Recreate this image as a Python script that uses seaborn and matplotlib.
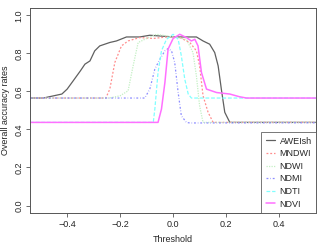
import matplotlib
matplotlib.use("Agg")
import matplotlib.pyplot as plt
import seaborn as sns
import pandas as pd

# Threshold vs overall accuracy
awei_x = [-0.54, -0.49, -0.45, -0.42, -0.40, -0.377, -0.35, -0.333, -0.314, -0.296, -0.277,
          -0.239, -0.214, -0.176, -0.126, -0.088, 0.0, 0.088, 0.113, 0.138, 0.157, 0.17,
          0.182, 0.195, 0.214, 0.54]
awei_y = [0.565, 0.565, 0.577, 0.586, 0.612, 0.656, 0.708, 0.743, 0.76, 0.813, 0.839,
          0.857, 0.865, 0.886, 0.886, 0.895, 0.886, 0.886, 0.865, 0.848, 0.804, 0.734,
          0.612, 0.49, 0.437, 0.437]

mndwi_x = [-0.54, -0.254, -0.239, -0.22, -0.195, -0.17, -0.126, -0.075, -0.025, 0.025,
           0.063, 0.088, 0.1, 0.113, 0.132, 0.151, 0.54]
mndwi_y = [0.565, 0.565, 0.612, 0.752, 0.839, 0.865, 0.883, 0.878, 0.886, 0.883,
           0.857, 0.813, 0.734, 0.577, 0.49, 0.437, 0.437]

ndwi_x = [-0.54, -0.24, -0.2, -0.17, -0.151, -0.132, -0.1, -0.063, -0.025, 0.05,
          0.075, 0.088, 0.1, 0.113, 0.54]
ndwi_y = [0.565, 0.565, 0.577, 0.603, 0.734, 0.857, 0.878, 0.9, 0.892, 0.874,
          0.804, 0.68, 0.524, 0.437, 0.437]

ndmi_x = [-0.54, -0.107, -0.088, -0.069, -0.05, -0.031, -0.019, -0.006, 0.006, 0.019,
          0.031, 0.05, 0.063, 0.54]
ndmi_y = [0.565, 0.565, 0.612, 0.717, 0.769, 0.813, 0.825, 0.813, 0.752, 0.594,
          0.472, 0.437, 0.434, 0.435]

ndti_x = [-0.54, -0.075, -0.069, -0.057, -0.044, -0.025, 0.0, 0.019, 0.031, 0.044,
          0.057, 0.069, 0.54]
ndti_y = [0.437, 0.437, 0.507, 0.699, 0.813, 0.874, 0.9, 0.874, 0.787, 0.664,
          0.586, 0.565, 0.565]

ndvi_x = [-0.54, -0.057, -0.044, -0.031, -0.019, 0.0, 0.025, 0.05, 0.069, 0.082,
          0.094, 0.107, 0.126, 0.164, 0.214, 0.25, 0.277, 0.54]
ndvi_y = [0.437, 0.437, 0.507, 0.647, 0.822, 0.878, 0.9, 0.883, 0.865, 0.874,
          0.839, 0.699, 0.612, 0.594, 0.586, 0.572, 0.565, 0.565]

names = ["AWEIsh", "MNDWI", "NDWI", "NDMI", "NDTI", "NDVI"]
xs = [awei_x, mndwi_x, ndwi_x, ndmi_x, ndti_x, ndvi_x]
ys = [awei_y, mndwi_y, ndwi_y, ndmi_y, ndti_y, ndvi_y]

colors = ["#606060", "#ff8c8c", "#c4f0c4", "#8c8cff", "#80ffff", "#ff70ff"]
styles = ["-", (0, (1.5, 1.5)), (0, (1, 1)), (0, (1.5, 1.5, 0.5, 1.5)), (0, (3, 1.5)), "-"]
widths = [0.9, 0.9, 0.9, 0.9, 0.9, 1.1]

sns.set_style("white")
plt.rcParams["font.family"] = ["Liberation Sans", "DejaVu Sans"]

fig = plt.figure(figsize=(3.2, 2.47), dpi=100)
ax = fig.add_axes([0.094, 0.137, 0.894, 0.832])

for name, x, y, c, ls, lw in zip(names, xs, ys, colors, styles, widths):
    df = pd.DataFrame({"Threshold": x, "acc": y})
    sns.lineplot(data=df, x="Threshold", y="acc", ax=ax, color=c, linestyle=ls,
                 linewidth=lw, label=name)

ax.set_xlim(-0.54, 0.54)
ax.set_ylim(-0.04, 1.04)
ax.set_xticks([-0.4, -0.2, 0.0, 0.2, 0.4])
ax.set_yticks([0.0, 0.2, 0.4, 0.6, 0.8, 1.0])
ax.set_xticklabels(["\u22120.4", "\u22120.2", "0.0", "0.2", "0.4"])
ax.set_yticklabels(["0.0", "0.2", "0.4", "0.6", "0.8", "1.0"], rotation=90, va="center")
ax.tick_params(axis="both", direction="out", length=3, width=0.6, color="#555555",
               labelsize=6.5, pad=2, bottom=True, left=True)
ax.set_xlabel("Threshold", fontsize=6.5, labelpad=4)
ax.set_ylabel("Overall accuracy rates", fontsize=6.5, labelpad=3)
for s in ax.spines.values():
    s.set_color("#555555")
    s.set_linewidth(0.7)

leg = ax.legend(loc="lower right", fontsize=6.5, frameon=True, fancybox=False,
                borderpad=0.5, handlelength=1.0, handletextpad=0.5, labelspacing=0.4,
                borderaxespad=0)
leg.get_frame().set_edgecolor("#555555")
leg.get_frame().set_linewidth(0.7)

fig.savefig("out.png", dpi=100)
